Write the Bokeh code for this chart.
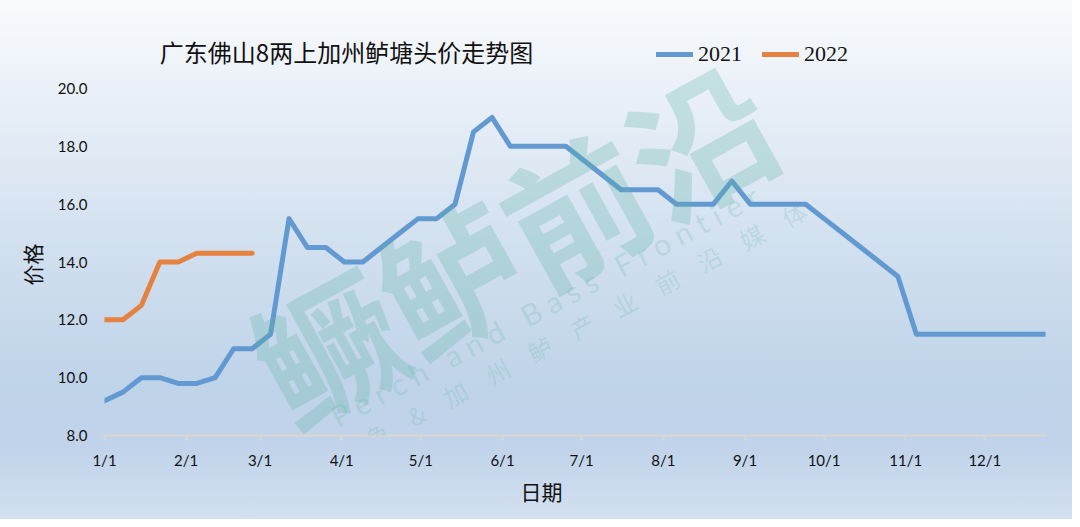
import pandas as pd
from bokeh.plotting import figure
from bokeh.models import (Range1d, FixedTicker, PrintfTickFormatter,
                          Label, Legend, LegendItem, Title)
from bokeh.embed import file_html
from bokeh.resources import INLINE

# ---------------- data ----------------
title_text = "广东佛山8两上加州鲈塘头价走势图"
x_title = "日期"
y_title = "价格"

dates_2021 = [
    "2021-01-01", "2021-01-08", "2021-01-15", "2021-01-22", "2021-01-29",
    "2021-02-05", "2021-02-12", "2021-02-19", "2021-02-26",
    "2021-03-05", "2021-03-12", "2021-03-19", "2021-03-26",
    "2021-04-02", "2021-04-09", "2021-04-16", "2021-04-23", "2021-04-30",
    "2021-05-07", "2021-05-14", "2021-05-21", "2021-05-28",
    "2021-06-04", "2021-06-11", "2021-06-18", "2021-06-25",
    "2021-07-02", "2021-07-09", "2021-07-16", "2021-07-23", "2021-07-30",
    "2021-08-06", "2021-08-13", "2021-08-20", "2021-08-27",
    "2021-09-03", "2021-09-10", "2021-09-17", "2021-09-24",
    "2021-10-01", "2021-10-08", "2021-10-15", "2021-10-22", "2021-10-29",
    "2021-11-05", "2021-11-12", "2021-11-19", "2021-11-26",
    "2021-12-03", "2021-12-10", "2021-12-17", "2021-12-24",
]
price_2021 = [
    9.2, 9.5, 10.0, 10.0, 9.8,
    9.8, 10.0, 11.0, 11.0,
    11.5, 15.5, 14.5, 14.5,
    14.0, 14.0, 14.5, 15.0, 15.5,
    15.5, 16.0, 18.5, 19.0,
    18.0, 18.0, 18.0, 18.0,
    17.5, 17.0, 16.5, 16.5, 16.5,
    16.0, 16.0, 16.0, 16.8,
    16.0, 16.0, 16.0, 16.0,
    15.5, 15.0, 14.5, 14.0, 13.5,
    11.5, 11.5, 11.5, 11.5,
    11.5, 11.5, 11.5, 11.5,
]
dates_2022 = [
    "2022-01-01", "2022-01-08", "2022-01-15", "2022-01-22", "2022-01-29",
    "2022-02-05", "2022-02-12", "2022-02-19", "2022-02-26",
]
price_2022 = [12.0, 12.0, 12.5, 14.0, 14.0, 14.3, 14.3, 14.3, 14.3]

month_starts = ["2021-%02d-01" % m for m in range(1, 13)]
month_labels = ["1/1", "2/1", "3/1", "4/1", "5/1", "6/1",
                "7/1", "8/1", "9/1", "10/1", "11/1", "12/1"]
series_names = ["2021", "2022"]
y_ticks = [8, 10, 12, 14, 16, 18, 20]


def day_of_year(dates):
    return [int(d) - 1 for d in pd.to_datetime(dates).dayofyear]


x21 = day_of_year(dates_2021)
x22 = day_of_year(dates_2022)
tick_days = day_of_year(month_starts)

# ---------------- layout geometry (pixels) ----------------
W, H = 1072, 519
FRAME_L, FRAME_R, FRAME_B = 104, 1045, 435   # frame edges in the figure
Y20_PX = 88                                   # pixel row of the top tick (20.0)
span = max(y_ticks) - min(y_ticks)
y_top = max(y_ticks) + span * Y20_PX / (FRAME_B - Y20_PX)   # empty headroom for title / legend

p = figure(width=W, height=H, output_backend="svg", toolbar_location=None,
           x_range=Range1d(0, max(x21)), y_range=Range1d(min(y_ticks), y_top),
           min_border_left=FRAME_L, min_border_right=W - FRAME_R,
           min_border_top=0, min_border_bottom=H - FRAME_B)
p.background_fill_alpha = 0
p.border_fill_alpha = 0
p.outline_line_color = None
p.styles = {"background": "linear-gradient(to bottom, #f9fbfd 0%, #e8eff7 20%, #d1e0ef 48%, "
                          "#bfd3e9 74%, #c0d3ea 86%, #d3e1f0 100%)"}
p.grid.grid_line_color = None

BLUE = "#6399d1"
ORANGE = "#e6823f"
r21 = p.line(x21, price_2021, line_color=BLUE, line_width=5, line_join="round", line_cap="round")
r22 = p.line(x22, price_2022, line_color=ORANGE, line_width=5, line_join="round", line_cap="round")

# x axis
xa = p.xaxis[0]
xa.ticker = FixedTicker(ticks=tick_days)
xa.major_label_overrides = {d: lab for d, lab in zip(tick_days, month_labels)}
xa.minor_tick_line_color = None
xa.axis_line_color = "#dcd7cc"
xa.axis_line_width = 2
xa.major_tick_line_color = "#dcd7cc"
xa.major_tick_line_width = 2
xa.major_tick_in = 0
xa.major_tick_out = 5
xa.major_label_standoff = 10
xa.major_label_text_font = "Lato"
xa.major_label_text_font_size = "15px"
xa.major_label_text_color = "#111111"

# y axis
ya = p.yaxis[0]
ya.ticker = FixedTicker(ticks=y_ticks)
ya.formatter = PrintfTickFormatter(format="%.1f")
ya.axis_line_color = None
ya.major_tick_line_color = None
ya.minor_tick_line_color = None
ya.major_tick_in = 0
ya.major_tick_out = 0
ya.major_label_standoff = 17
ya.major_label_text_font = "Lato"
ya.major_label_text_font_size = "15px"
ya.major_label_text_color = "#111111"

# axis titles placed as side-panel titles so they can be offset like the reference
p.add_layout(Title(text=y_title, align="left", offset=150, standoff=15,
                   text_font="Noto Sans CJK SC", text_font_size="21px",
                   text_font_style="normal", text_color="#111111"), "left")
p.add_layout(Title(text=x_title, align="left", offset=416, standoff=4,
                   text_font="Noto Sans CJK SC", text_font_size="21px",
                   text_font_style="normal", text_color="#111111"), "below")

# ---------------- watermark ----------------
WM = "#5cb5a5"
NB = "\u00a0"
wm_en = (NB * 3).join(NB.join(w) for w in ["Perch", "and", "Bass", "Frontier"])
p.add_layout(Label(x=407, y=196, x_units="screen", y_units="screen", text="鳜鲈前沿",
                   angle=29, angle_units="deg", text_align="center", text_baseline="middle",
                   text_font="Noto Sans CJK SC", text_font_style="bold", text_font_size="142px",
                   text_color=WM, text_alpha=0.28))
p.add_layout(Label(x=440, y=130, x_units="screen", y_units="screen", text=wm_en,
                   angle=28, angle_units="deg", text_align="center", text_baseline="middle",
                   text_font="Lato", text_font_size="30px",
                   text_color=WM, text_alpha=0.22))
p.add_layout(Label(x=460, y=100, x_units="screen", y_units="screen",
                   text="鳜　鱼　&　加　州　鲈　产　业　前　沿　媒　体",
                   angle=28, angle_units="deg", text_align="center", text_baseline="middle",
                   text_font="Noto Sans CJK SC", text_font_size="24px",
                   text_color=WM, text_alpha=0.22))

# ---------------- title ----------------
p.add_layout(Label(x=242, y=384, x_units="screen", y_units="screen", text=title_text,
                   text_align="center", text_baseline="middle",
                   text_font="Noto Sans CJK SC", text_font_size="24px", text_color="#111111"))

# ---------------- legend ----------------
legend = Legend(items=[LegendItem(label=series_names[0], renderers=[r21]),
                       LegendItem(label=series_names[1], renderers=[r22])],
                orientation="horizontal", location=(552, 368),
                glyph_width=37, glyph_height=24, label_height=24, label_standoff=5,
                spacing=20, padding=0, margin=0,
                border_line_color=None, background_fill_alpha=0,
                label_text_font="Liberation Serif", label_text_font_size="22px",
                label_text_color="#111111")
p.add_layout(legend, "center")

open("out.html", "w").write(file_html(p, INLINE))
